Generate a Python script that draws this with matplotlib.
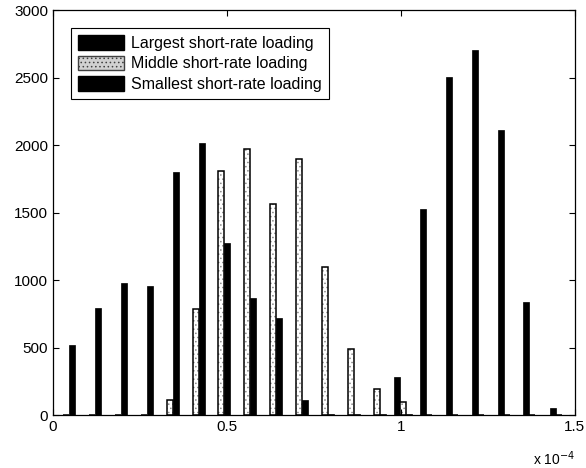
"""
Grouped histogram of short-rate loadings (largest / middle / smallest),
redrawn in a MATLAB-like style.
"""

import matplotlib
matplotlib.use("Agg")
import matplotlib.pyplot as plt
from matplotlib.patches import Patch
import numpy as np

# bin centres, in units of 1e-4
BIN_CENTERS = [0.037, 0.112, 0.186, 0.261, 0.335, 0.410, 0.484, 0.559, 0.633, 0.708,
               0.782, 0.857, 0.931, 1.006, 1.080, 1.155, 1.229, 1.304, 1.378, 1.453]

LARGEST = [0, 0, 0, 0, 0, 0, 0, 0, 0, 0,
           0, 0, 0, 281, 1526, 2504, 2704, 2111, 837, 52]
MIDDLE = [0, 0, 0, 0, 110, 785, 1807, 1970, 1563, 1896,
          1096, 489, 193, 96, 0, 0, 0, 0, 0, 0]
SMALLEST = [519, 793, 978, 955, 1800, 2015, 1274, 867, 718, 111,
            8, 6, 5, 4, 0, 0, 0, 0, 0, 0]

LABELS = ["Largest short-rate loading",
          "Middle short-rate loading",
          "Smallest short-rate loading"]

plt.rcParams["font.family"] = ["Liberation Sans", "DejaVu Sans"]
plt.rcParams["hatch.linewidth"] = 0.6

fig = plt.figure(figsize=(5.86, 4.68), dpi=100)
ax = fig.add_axes([0.0904, 0.1132, 0.8906, 0.8654])

x = np.array(BIN_CENTERS)
w = 0.0172

ax.bar(x - w, LARGEST, width=w, color="black", edgecolor="black", linewidth=0.5)
ax.bar(x, MIDDLE, width=w, color="white", edgecolor="0.55", linewidth=0, hatch="....")
ax.bar(x, MIDDLE, width=w, fill=False, edgecolor="black", linewidth=1.1)
ax.bar(x + w, SMALLEST, width=w, color="black", edgecolor="black", linewidth=0.5)

ax.set_xlim(0, 1.5)
ax.set_ylim(0, 3000)
ax.set_xticks([0, 0.5, 1, 1.5])
ax.set_xticklabels(["0", "0.5", "1", "1.5"])
ax.set_yticks(range(0, 3001, 500))
ax.tick_params(direction="in", top=True, right=True, labelsize=11, length=4)
for s in ax.spines.values():
    s.set_linewidth(0.9)

ax.text(1.0, -0.107, r"x 10$^{-4}$", transform=ax.transAxes,
        ha="right", va="center", fontsize=10)

handles = [Patch(facecolor="black", edgecolor="black"),
           Patch(facecolor="0.82", edgecolor="0.25", hatch="...."),
           Patch(facecolor="black", edgecolor="black")]
leg = ax.legend(handles, LABELS, loc="upper left", bbox_to_anchor=(0.034, 0.955),
                borderaxespad=0, fontsize=11.5, handlelength=2.9, handleheight=1.0,
                handletextpad=0.45, labelspacing=0.3, borderpad=0.45,
                fancybox=False, framealpha=1, edgecolor="black")
leg.get_frame().set_linewidth(0.8)

fig.savefig("out.png", dpi=100)
